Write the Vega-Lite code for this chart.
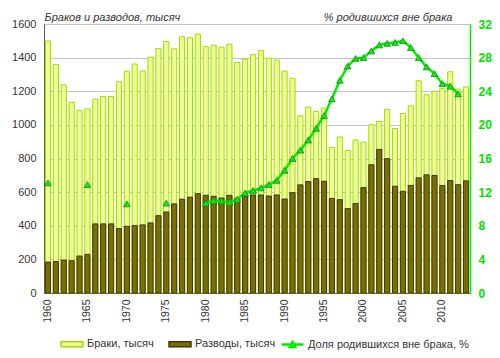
{
  "$schema": "https://vega.github.io/schema/vega-lite/v6.json",
  "width": 426,
  "height": 269,
  "autosize": {"type": "none"},
  "padding": {"left": 44, "top": 24, "right": 30, "bottom": 65},
  "background": "white",
  "config": {
    "font": "Liberation Sans",
    "view": {"stroke": "#a6a6a6", "strokeWidth": 1},
    "axis": {"labelColor": "#333333", "labelFont": "Liberation Sans", "titleFont": "Liberation Sans"},
    "axisX": {"labelAngle": -90}
  },
  "datasets": {
    "bars": [
      {"year": 1960, "series": "Браки, тысяч", "value": 1499},
      {"year": 1961, "series": "Браки, тысяч", "value": 1360},
      {"year": 1962, "series": "Браки, тысяч", "value": 1238},
      {"year": 1963, "series": "Браки, тысяч", "value": 1134},
      {"year": 1964, "series": "Браки, тысяч", "value": 1085},
      {"year": 1965, "series": "Браки, тысяч", "value": 1095},
      {"year": 1966, "series": "Браки, тысяч", "value": 1153},
      {"year": 1967, "series": "Браки, тысяч", "value": 1169},
      {"year": 1968, "series": "Браки, тысяч", "value": 1169},
      {"year": 1969, "series": "Браки, тысяч", "value": 1256},
      {"year": 1970, "series": "Браки, тысяч", "value": 1319},
      {"year": 1971, "series": "Браки, тысяч", "value": 1362},
      {"year": 1972, "series": "Браки, тысяч", "value": 1321},
      {"year": 1973, "series": "Браки, тысяч", "value": 1403},
      {"year": 1974, "series": "Браки, тысяч", "value": 1453},
      {"year": 1975, "series": "Браки, тысяч", "value": 1496},
      {"year": 1976, "series": "Браки, тысяч", "value": 1452},
      {"year": 1977, "series": "Браки, тысяч", "value": 1524},
      {"year": 1978, "series": "Браки, тысяч", "value": 1518},
      {"year": 1979, "series": "Браки, тысяч", "value": 1540},
      {"year": 1980, "series": "Браки, тысяч", "value": 1465},
      {"year": 1981, "series": "Браки, тысяч", "value": 1474},
      {"year": 1982, "series": "Браки, тысяч", "value": 1462},
      {"year": 1983, "series": "Браки, тысяч", "value": 1480},
      {"year": 1984, "series": "Браки, тысяч", "value": 1371},
      {"year": 1985, "series": "Браки, тысяч", "value": 1390},
      {"year": 1986, "series": "Браки, тысяч", "value": 1417},
      {"year": 1987, "series": "Браки, тысяч", "value": 1443},
      {"year": 1988, "series": "Браки, тысяч", "value": 1397},
      {"year": 1989, "series": "Браки, тысяч", "value": 1385},
      {"year": 1990, "series": "Браки, тысяч", "value": 1320},
      {"year": 1991, "series": "Браки, тысяч", "value": 1277},
      {"year": 1992, "series": "Браки, тысяч", "value": 1054},
      {"year": 1993, "series": "Браки, тысяч", "value": 1106},
      {"year": 1994, "series": "Браки, тысяч", "value": 1080},
      {"year": 1995, "series": "Браки, тысяч", "value": 1100},
      {"year": 1996, "series": "Браки, тысяч", "value": 866},
      {"year": 1997, "series": "Браки, тысяч", "value": 928},
      {"year": 1998, "series": "Браки, тысяч", "value": 848},
      {"year": 1999, "series": "Браки, тысяч", "value": 911},
      {"year": 2000, "series": "Браки, тысяч", "value": 897},
      {"year": 2001, "series": "Браки, тысяч", "value": 1001},
      {"year": 2002, "series": "Браки, тысяч", "value": 1020},
      {"year": 2003, "series": "Браки, тысяч", "value": 1092},
      {"year": 2004, "series": "Браки, тысяч", "value": 979},
      {"year": 2005, "series": "Браки, тысяч", "value": 1067},
      {"year": 2006, "series": "Браки, тысяч", "value": 1113},
      {"year": 2007, "series": "Браки, тысяч", "value": 1262},
      {"year": 2008, "series": "Браки, тысяч", "value": 1179},
      {"year": 2009, "series": "Браки, тысяч", "value": 1200},
      {"year": 2010, "series": "Браки, тысяч", "value": 1215},
      {"year": 2011, "series": "Браки, тысяч", "value": 1316},
      {"year": 2012, "series": "Браки, тысяч", "value": 1213},
      {"year": 2013, "series": "Браки, тысяч", "value": 1226},
      {"year": 1960, "series": "Разводы, тысяч", "value": 184},
      {"year": 1961, "series": "Разводы, тысяч", "value": 187},
      {"year": 1962, "series": "Разводы, тысяч", "value": 196},
      {"year": 1963, "series": "Разводы, тысяч", "value": 192},
      {"year": 1964, "series": "Разводы, тысяч", "value": 220},
      {"year": 1965, "series": "Разводы, тысяч", "value": 230},
      {"year": 1966, "series": "Разводы, тысяч", "value": 411},
      {"year": 1967, "series": "Разводы, тысяч", "value": 411},
      {"year": 1968, "series": "Разводы, тысяч", "value": 411},
      {"year": 1969, "series": "Разводы, тысяч", "value": 383},
      {"year": 1970, "series": "Разводы, тысяч", "value": 397},
      {"year": 1971, "series": "Разводы, тысяч", "value": 401},
      {"year": 1972, "series": "Разводы, тысяч", "value": 405},
      {"year": 1973, "series": "Разводы, тысяч", "value": 417},
      {"year": 1974, "series": "Разводы, тысяч", "value": 460},
      {"year": 1975, "series": "Разводы, тысяч", "value": 482},
      {"year": 1976, "series": "Разводы, тысяч", "value": 530},
      {"year": 1977, "series": "Разводы, тысяч", "value": 558},
      {"year": 1978, "series": "Разводы, тысяч", "value": 570},
      {"year": 1979, "series": "Разводы, тысяч", "value": 591},
      {"year": 1980, "series": "Разводы, тысяч", "value": 581},
      {"year": 1981, "series": "Разводы, тысяч", "value": 575},
      {"year": 1982, "series": "Разводы, тысяч", "value": 565},
      {"year": 1983, "series": "Разводы, тысяч", "value": 581},
      {"year": 1984, "series": "Разводы, тысяч", "value": 563},
      {"year": 1985, "series": "Разводы, тысяч", "value": 577},
      {"year": 1986, "series": "Разводы, тысяч", "value": 583},
      {"year": 1987, "series": "Разводы, тысяч", "value": 583},
      {"year": 1988, "series": "Разводы, тысяч", "value": 577},
      {"year": 1989, "series": "Разводы, тысяч", "value": 583},
      {"year": 1990, "series": "Разводы, тысяч", "value": 559},
      {"year": 1991, "series": "Разводы, тысяч", "value": 597},
      {"year": 1992, "series": "Разводы, тысяч", "value": 643},
      {"year": 1993, "series": "Разводы, тысяч", "value": 663},
      {"year": 1994, "series": "Разводы, тысяч", "value": 680},
      {"year": 1995, "series": "Разводы, тысяч", "value": 665},
      {"year": 1996, "series": "Разводы, тысяч", "value": 563},
      {"year": 1997, "series": "Разводы, тысяч", "value": 555},
      {"year": 1998, "series": "Разводы, тысяч", "value": 502},
      {"year": 1999, "series": "Разводы, тысяч", "value": 532},
      {"year": 2000, "series": "Разводы, тысяч", "value": 627},
      {"year": 2001, "series": "Разводы, тысяч", "value": 763},
      {"year": 2002, "series": "Разводы, тысяч", "value": 854},
      {"year": 2003, "series": "Разводы, тысяч", "value": 799},
      {"year": 2004, "series": "Разводы, тысяч", "value": 635},
      {"year": 2005, "series": "Разводы, тысяч", "value": 605},
      {"year": 2006, "series": "Разводы, тысяч", "value": 640},
      {"year": 2007, "series": "Разводы, тысяч", "value": 685},
      {"year": 2008, "series": "Разводы, тысяч", "value": 703},
      {"year": 2009, "series": "Разводы, тысяч", "value": 699},
      {"year": 2010, "series": "Разводы, тысяч", "value": 639},
      {"year": 2011, "series": "Разводы, тысяч", "value": 669},
      {"year": 2012, "series": "Разводы, тысяч", "value": 644},
      {"year": 2013, "series": "Разводы, тысяч", "value": 667}
    ],
    "births": [
      {"year": 1960, "series": "Доля родившихся вне брака, %", "pct": 13.1},
      {"year": 1965, "series": "Доля родившихся вне брака, %", "pct": 12.9},
      {"year": 1970, "series": "Доля родившихся вне брака, %", "pct": 10.6},
      {"year": 1975, "series": "Доля родившихся вне брака, %", "pct": 10.7},
      {"year": 1980, "series": "Доля родившихся вне брака, %", "pct": 10.7},
      {"year": 1981, "series": "Доля родившихся вне брака, %", "pct": 11.0},
      {"year": 1982, "series": "Доля родившихся вне брака, %", "pct": 10.95},
      {"year": 1983, "series": "Доля родившихся вне брака, %", "pct": 10.8},
      {"year": 1984, "series": "Доля родившихся вне брака, %", "pct": 11.15},
      {"year": 1985, "series": "Доля родившихся вне брака, %", "pct": 11.9},
      {"year": 1986, "series": "Доля родившихся вне брака, %", "pct": 12.2},
      {"year": 1987, "series": "Доля родившихся вне брака, %", "pct": 12.5},
      {"year": 1988, "series": "Доля родившихся вне брака, %", "pct": 12.9},
      {"year": 1989, "series": "Доля родившихся вне брака, %", "pct": 13.4},
      {"year": 1990, "series": "Доля родившихся вне брака, %", "pct": 14.6},
      {"year": 1991, "series": "Доля родившихся вне брака, %", "pct": 16.0},
      {"year": 1992, "series": "Доля родившихся вне брака, %", "pct": 17.0},
      {"year": 1993, "series": "Доля родившихся вне брака, %", "pct": 18.2},
      {"year": 1994, "series": "Доля родившихся вне брака, %", "pct": 19.6},
      {"year": 1995, "series": "Доля родившихся вне брака, %", "pct": 21.1},
      {"year": 1996, "series": "Доля родившихся вне брака, %", "pct": 23.1},
      {"year": 1997, "series": "Доля родившихся вне брака, %", "pct": 25.3},
      {"year": 1998, "series": "Доля родившихся вне брака, %", "pct": 27.0},
      {"year": 1999, "series": "Доля родившихся вне брака, %", "pct": 27.9},
      {"year": 2000, "series": "Доля родившихся вне брака, %", "pct": 28.0},
      {"year": 2001, "series": "Доля родившихся вне брака, %", "pct": 28.8},
      {"year": 2002, "series": "Доля родившихся вне брака, %", "pct": 29.5},
      {"year": 2003, "series": "Доля родившихся вне брака, %", "pct": 29.7},
      {"year": 2004, "series": "Доля родившихся вне брака, %", "pct": 29.8},
      {"year": 2005, "series": "Доля родившихся вне брака, %", "pct": 30.0},
      {"year": 2006, "series": "Доля родившихся вне брака, %", "pct": 29.2},
      {"year": 2007, "series": "Доля родившихся вне брака, %", "pct": 28.0},
      {"year": 2008, "series": "Доля родившихся вне брака, %", "pct": 26.9},
      {"year": 2009, "series": "Доля родившихся вне брака, %", "pct": 26.1},
      {"year": 2010, "series": "Доля родившихся вне брака, %", "pct": 24.9},
      {"year": 2011, "series": "Доля родившихся вне брака, %", "pct": 24.6},
      {"year": 2012, "series": "Доля родившихся вне брака, %", "pct": 23.7}
    ]
  },
  "encoding": {
    "x": {
      "field": "year",
      "type": "ordinal",
      "scale": {"paddingInner": 0.35, "paddingOuter": 0.18},
      "axis": {
        "title": null,
        "values": [1960, 1965, 1970, 1975, 1980, 1985, 1990, 1995, 2000, 2005, 2010],
        "labelAngle": -90,
        "labelFontSize": 10.5,
        "labelPadding": 6,
        "ticks": false,
        "grid": false,
        "domainColor": "#595959",
        "domainWidth": 1
      }
    }
  },
  "layer": [
    {
      "data": {"name": "bars"},
      "mark": {"type": "bar", "strokeWidth": 1},
      "encoding": {
        "y": {
          "field": "value",
          "type": "quantitative",
          "stack": null,
          "scale": {"domain": [0, 1600], "nice": false},
          "axis": {
            "orient": "left",
            "values": [0, 200, 400, 600, 800, 1000, 1200, 1400, 1600],
            "format": "d",
            "labelFontSize": 11,
            "labelPadding": 8,
            "ticks": false,
            "grid": true,
            "gridColor": "#c4c4c4",
            "domainColor": "#595959",
            "title": "Браков и разводов, тысяч",
            "titleAngle": 0,
            "titleX": 0,
            "titleY": -4,
            "titleAlign": "left",
            "titleBaseline": "alphabetic",
            "titleFontStyle": "italic",
            "titleFontWeight": "normal",
            "titleFontSize": 11,
            "titleColor": "#333333"
          }
        },
        "fill": {
          "field": "series",
          "type": "nominal",
          "scale": {"domain": ["Браки, тысяч", "Разводы, тысяч"], "range": ["#f0ff90", "#7a6f00"]},
          "legend": {
            "title": null,
            "orient": "none",
            "legendX": 16,
            "legendY": 308,
            "direction": "horizontal",
            "labelFontSize": 11,
            "labelColor": "#333333",
            "labelLimit": 400,
            "labelOffset": 3,
            "columnPadding": 12,
            "symbolType": "M-1,-0.22H1V0.22H-1Z",
            "symbolSize": 484,
            "symbolStrokeWidth": 1.5
          }
        },
        "stroke": {
          "field": "series",
          "type": "nominal",
          "scale": {"domain": ["Браки, тысяч", "Разводы, тысяч"], "range": ["#99e000", "#3d3800"]},
          "legend": {
            "title": null,
            "orient": "none",
            "legendX": 16,
            "legendY": 308,
            "direction": "horizontal",
            "labelFontSize": 11,
            "labelColor": "#333333",
            "labelLimit": 400,
            "labelOffset": 3,
            "columnPadding": 12,
            "symbolType": "M-1,-0.22H1V0.22H-1Z",
            "symbolSize": 484,
            "symbolStrokeWidth": 1.5
          }
        }
      }
    },
    {
      "data": {"name": "births"},
      "encoding": {
        "y": {
          "field": "pct",
          "type": "quantitative",
          "scale": {"domain": [0, 32], "nice": false},
          "axis": {
            "orient": "right",
            "values": [0, 4, 8, 12, 16, 20, 24, 28, 32],
            "labelColor": "#00e000",
            "labelFontWeight": "bold",
            "labelFontSize": 12,
            "labelPadding": 8,
            "ticks": false,
            "grid": false,
            "domainColor": "#00ee00",
            "domainWidth": 1.5,
            "title": "% родившихся вне брака",
            "titleAngle": 0,
            "titleX": -18,
            "titleY": -4,
            "titleAlign": "right",
            "titleBaseline": "alphabetic",
            "titleFontStyle": "italic",
            "titleFontWeight": "normal",
            "titleFontSize": 11,
            "titleColor": "#333333"
          }
        },
        "color": {
          "field": "series",
          "type": "nominal",
          "scale": {"domain": ["Доля родившихся вне брака, %"], "range": ["#00ee00"]},
          "legend": {
            "title": null,
            "orient": "none",
            "legendX": 236,
            "legendY": 308,
            "direction": "horizontal",
            "labelFontSize": 11,
            "labelColor": "#333333",
            "labelLimit": 400,
            "labelOffset": 3,
            "symbolType": "M-1,0H1M-0.25,0.22L0,-0.22L0.25,0.22Z",
            "symbolFillColor": "#22dd22",
            "symbolSize": 484,
            "symbolStrokeWidth": 2.5
          }
        }
      },
      "layer": [
        {
          "transform": [{"filter": "datum.year >= 1980"}],
          "mark": {"type": "line", "strokeWidth": 2.5}
        },
        {
          "mark": {"type": "point", "shape": "triangle-up", "size": 45, "filled": true, "opacity": 1, "fill": "#22dd22", "stroke": "#009900", "strokeWidth": 0.8}
        }
      ]
    }
  ],
  "resolve": {"scale": {"y": "independent"}}
}
